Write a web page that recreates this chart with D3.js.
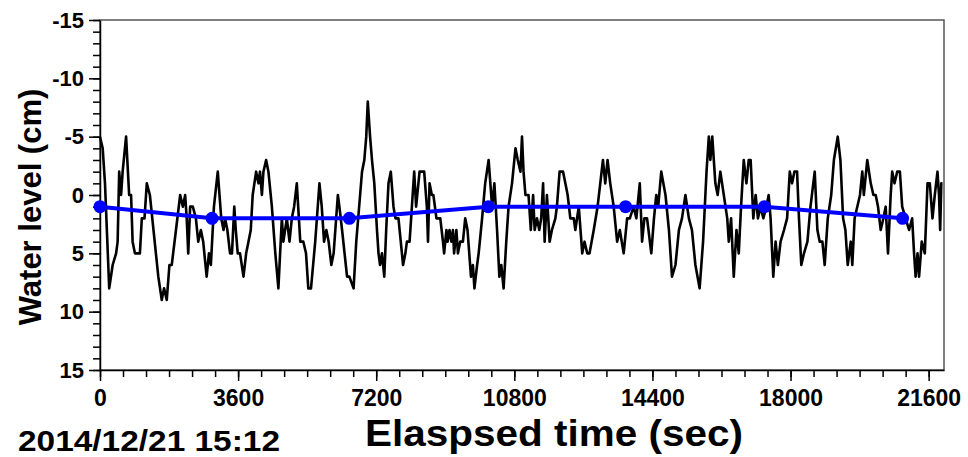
<!DOCTYPE html>
<html lang="en">
<head>
    <meta charset="UTF-8">
    <title>Water level</title>
    <style>
        body {
            margin: 0;
            background-color: #fff;
        }

        svg {
            display: block;
            font-family: Arial, 'Liberation Sans', sans-serif;
            font-weight: bold;
        }

        .axis text {
            font-size: 22px;
            font-weight: bold;
            fill: #000;
        }

        .axis path,
        .axis line {
            stroke: #000;
            stroke-width: 1.5px;
        }

        .minor path {
            stroke: none;
        }

        .title {
            fill: #000;
            font-weight: bold;
        }
    </style>
</head>
<body>
    <div id="chart"></div>

    <script src="https://d3js.org/d3.v7.min.js"></script>
    <script>
        // recorded water level, seconds from start / cm
        const timeSec = [
            0, 70, 130, 240, 330, 420, 460, 500, 550, 590,
            680, 760, 810, 850, 910, 1040, 1090, 1160, 1220, 1300,
            1520, 1610, 1670, 1740, 1810, 1870, 1980, 2090, 2160, 2220,
            2260, 2300, 2350, 2420, 2500, 2560, 2630, 2690, 2780, 2840,
            2890, 2970, 3070, 3160, 3220, 3260, 3320, 3390, 3440, 3500,
            3540, 3590, 3650, 3740, 3810, 3870, 3930, 3980, 4070, 4130,
            4170, 4220, 4260, 4330, 4390, 4480, 4570, 4650, 4740, 4780,
            4870, 4940, 5000, 5060, 5130, 5220, 5300, 5370, 5430, 5500,
            5610, 5720, 5780, 5840, 5900, 5960, 6030, 6090, 6200, 6240,
            6310, 6440, 6500, 6610, 6680, 6780, 6830, 6890, 6940, 6980,
            7040, 7090, 7150, 7220, 7260, 7300, 7350, 7410, 7460, 7520,
            7580, 7650, 7700, 7780, 7900, 7960, 8000, 8070, 8130, 8190,
            8240, 8330, 8450, 8520, 8550, 8590, 8650, 8690, 8770, 8870,
            8940, 8970, 9030, 9060, 9110, 9160, 9200, 9230, 9290, 9330,
            9390, 9460, 9520, 9580, 9670, 9720, 9760, 9830, 9870, 9960,
            10040, 10130, 10220, 10280, 10350, 10410, 10460, 10520, 10590, 10650,
            10740, 10830, 10890, 10960, 11000, 11040, 11090, 11170, 11230, 11290,
            11330, 11390, 11450, 11500, 11550, 11590, 11650, 11720, 11780, 11870,
            11910, 11980, 12070, 12130, 12190, 12260, 12350, 12390, 12480, 12570,
            12630, 12700, 12760, 12870, 12970, 13040, 13110, 13170, 13230, 13300,
            13390, 13480, 13550, 13650, 13740, 13810, 13910, 13980, 14070, 14130,
            14190, 14260, 14370, 14440, 14500, 14550, 14630, 14740, 14830, 14910,
            15000, 15090, 15170, 15260, 15350, 15430, 15520, 15630, 15720, 15810,
            15870, 15910, 15960, 16040, 16100, 16170, 16260, 16350, 16390, 16450,
            16520, 16590, 16650, 16710, 16780, 16850, 16910, 16960, 17030, 17090,
            17150, 17220, 17290, 17370, 17430, 17480, 17550, 17610, 17670, 17740,
            17830, 17910, 17980, 18040, 18100, 18170, 18220, 18280, 18350, 18440,
            18520, 18630, 18700, 18760, 18830, 18890, 18970, 19060, 19130, 19230,
            19300, 19370, 19430, 19490, 19570, 19610, 19670, 19740, 19810, 19870,
            19910, 20000, 20090, 20160, 20220, 20280, 20350, 20420, 20480, 20540,
            20610, 20650, 20710, 20780, 20850, 20910, 21000, 21090, 21170, 21220,
            21260, 21310, 21350, 21420, 21500, 21570, 21630, 21700, 21760, 21830,
            21870, 21900, 21930, 21960
        ];
        const level = [
            -5, -4, -1, 8, 6, 5, 4, -2, 0, -2,
            -5, 0, 0, 4, 5, 5, 2, 2, -1, 0,
            7, 9, 8, 9, 6, 6, 3, 0, 1, 0,
            2, 5, 1, 1, 2, 4, 3, 4, 7, 5,
            6, 1, -2, 2, 3, 2, 3, 5, 5, 1,
            3, 5, 5, 7, 5, 4, 3, 0, -2, -1,
            -2, 0, -2, -3, -2, 1, 5, 8, 2, 4,
            2, 4, 2, 1, -1, 4, 4, 5, 8, 8,
            4, -1, 1, 4, 3, 4, 6, 5, 0, 1,
            3, 7, 7, 8, 4, 0, -2, -3, -5, -8,
            -5, -3, -1, 3, 5, 6, 5, 7, 3, -1,
            -2, 1, 2, 2, 6, 5, 4, 4, 1, -2,
            1, -2, -2, 1, 4, -1, 0, 0, 2, 2,
            4, 5, 3, 4, 3, 4, 3, 5, 3, 5,
            4, 4, 2, 3, 7, 6, 8, 6, 5, 2,
            -1, -3, 1, -1, 3, 7, 6, 8, 4, 1,
            -1, -4, -3, -2, -5, -2, 0, 0, 3, 0,
            3, 2, 3, 2, -1, 4, 0, 4, 3, 2,
            1, -2, -2, -1, 0, 2, 2, 3, 1, 5,
            4, 5, 5, 3, 1, -1, -3, -1, -3, -1,
            1, 4, 3, 5, 2, 2, 1, 2, -1, 4,
            2, 2, 5, 2, 0, 1, -2, 0, 3, 7,
            6, 3, 2, 0, 2, 3, 6, 8, 4, -2,
            -5, -3, -5, -1, 0, -2, 0, 2, 4, 2,
            7, 3, 5, 1, -3, -1, -3, -3, 2, 0,
            2, 1, 2, 1, 0, 2, 7, 4, 6, 4,
            3, 2, -2, -1, -2, -2, 2, 6, 5, 4,
            1, -2, 3, 4, 4, 6, 2, 0, -3, -5,
            -3, 2, 3, 6, 4, 6, 2, 1, 0, -2,
            0, -3, -1, 0, 0, 1, 3, 2, 1, 5,
            0, -2, -1, -2, -2, 1, 2, 3, 2, 5,
            7, 5, 7, 4, 5, -1, -1, 2, 0, -2,
            0, 3, -1, -1
        ];

        // hourly mean (blue)
        const meanTime = [0, 2920, 6500, 10120, 13700, 17320, 20920];
        const meanLevel = [1, 2, 2, 1, 1, 1, 2];

        const xTicks = [0, 3600, 7200, 10800, 14400, 18000, 21600];
        const yTicks = [-15, -10, -5, 0, 5, 10, 15];

        const width = 968;
        const height = 457;
        const margin = { top: 20, right: 24, bottom: 87, left: 100 };
        const plotW = width - margin.left - margin.right;
        const plotH = height - margin.top - margin.bottom;

        const x = d3.scaleLinear().domain([0, 22000]).range([0, plotW]);
        const y = d3.scaleLinear().domain([-15, 15]).range([0, plotH]);

        const svg = d3.select("#chart").append("svg")
            .attr("width", width)
            .attr("height", height);

        const g = svg.append("g")
            .attr("transform", `translate(${margin.left},${margin.top})`);

        // frame
        g.append("rect")
            .attr("width", plotW)
            .attr("height", plotH)
            .attr("fill", "none")
            .attr("stroke", "#555")
            .attr("stroke-width", 1.5);

        // minor ticks
        g.append("g")
            .attr("class", "axis minor")
            .call(d3.axisLeft(y).tickValues(d3.range(-15, 16, 1)).tickSize(7).tickFormat(""));
        g.append("g")
            .attr("class", "axis minor")
            .attr("transform", `translate(0,${plotH})`)
            .call(d3.axisBottom(x).tickValues(d3.range(0, 22000, 600)).tickSize(7).tickFormat(""));

        // major ticks + labels
        g.append("g")
            .attr("class", "axis")
            .call(d3.axisLeft(y).tickValues(yTicks).tickSize(11).tickSizeOuter(0)
                .tickPadding(5).tickFormat(d => String(d)));
        g.append("g")
            .attr("class", "axis xaxis")
            .attr("transform", `translate(0,${plotH})`)
            .call(d3.axisBottom(x).tickValues(xTicks).tickSize(11).tickSizeOuter(0)
                .tickPadding(9).tickFormat(d => String(d)));
        g.selectAll(".xaxis text").style("font-size", "23px");

        const points = timeSec.map((t, i) => ({ t: t, v: level[i] }));
        const means = meanTime.map((t, i) => ({ t: t, v: meanLevel[i] }));

        const line = d3.line()
            .x(d => x(d.t))
            .y(d => y(d.v));

        g.append("path")
            .datum(points)
            .attr("fill", "none")
            .attr("stroke", "#000")
            .attr("stroke-width", 2.6)
            .attr("stroke-linejoin", "round")
            .attr("d", line);

        g.append("path")
            .datum(means)
            .attr("fill", "none")
            .attr("stroke", "#0000ff")
            .attr("stroke-width", 4)
            .attr("d", line);

        g.selectAll(".dot")
            .data(means)
            .enter().append("circle")
            .attr("class", "dot")
            .attr("cx", d => x(d.t))
            .attr("cy", d => y(d.v))
            .attr("r", 6.5)
            .attr("fill", "#0000ff");

        // titles
        svg.append("text")
            .attr("class", "title")
            .attr("transform", `translate(41,207) rotate(-90)`)
            .attr("text-anchor", "middle")
            .style("font-size", "31px")
            .text("Water level (cm)");

        svg.append("text")
            .attr("class", "title")
            .attr("x", 365)
            .attr("y", 446)
            .attr("textLength", 378)
            .attr("lengthAdjust", "spacingAndGlyphs")
            .style("font-size", "36px")
            .text("Elaspsed time (sec)");

        svg.append("text")
            .attr("class", "title")
            .attr("x", 18)
            .attr("y", 451)
            .attr("textLength", 262)
            .attr("lengthAdjust", "spacingAndGlyphs")
            .style("font-size", "29px")
            .text("2014/12/21 15:12");
    </script>
</body>
</html>
